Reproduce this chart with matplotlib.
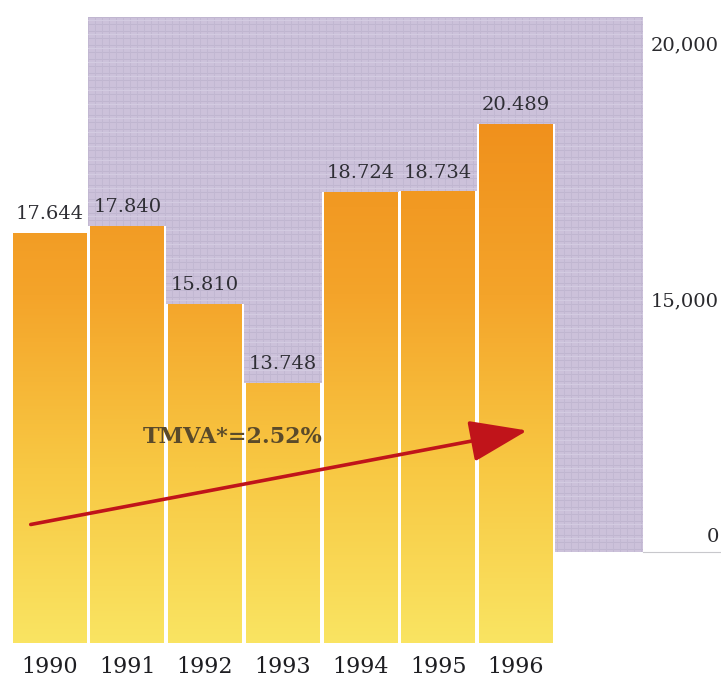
import numpy as np
import matplotlib
matplotlib.use('Agg')
import matplotlib.pyplot as plt
from matplotlib.colors import LinearSegmentedColormap, Normalize
from matplotlib.patches import FancyArrowPatch

# datos del grafico
years = ['1990', '1991', '1992', '1993', '1994', '1995', '1996']
values = [17644, 17840, 15810, 13748, 18724, 18734, 20489]
value_labels = ['17.644', '17.840', '15.810', '13.748', '18.724', '18.734', '20.489']
right_labels = ['20,000', '15,000', '0']
tmva_text = 'TMVA*=2.52%'

W, H = 721, 681
base = 7000          # las barras no arrancan en cero
px_per_unit = 0.0385 # pixeles por unidad de valor
pitch = 77.75        # pixeles entre barras
x0_px = 49.5         # centro de la primera barra
base_px = 643        # pie de las barras

fig = plt.figure(figsize=(W / 100, H / 100), dpi=100)
ax = fig.add_axes([0, 0, 1, 1])
ax.set_axis_off()

def fx(px):
    return px / W

def fy(py):
    return 1 - py / H

# fondo lila con textura de cuadricula
ph, pw = 552 - 17, 643 - 88
tex = np.ones((ph, pw, 3)) * np.array([204, 194, 219]) / 255
tex[::7, :, :] = np.array([192, 182, 208]) / 255
tex[:, ::7, :] = np.array([194, 184, 210]) / 255
tex[3::14, :, :] = np.array([212, 204, 226]) / 255
ax.imshow(tex, extent=(fx(88), fx(643), fy(552), fy(17)), transform=ax.transAxes,
          aspect='auto', zorder=0, interpolation='bilinear')

# linea base del eje derecho
ax.plot([fx(643), fx(720)], [fy(552), fy(552)], transform=ax.transAxes,
        color='#c8c8cc', lw=0.8, zorder=1)

xs = np.arange(len(years))
heights = [v - base for v in values]

# fondo blanco para los huecos entre barras
ax.bar(xs, heights, width=1.0, bottom=base, color='white', zorder=1)
bars = ax.bar(xs, heights, width=0.95, bottom=base, color='none', zorder=2)

cmap = LinearSegmentedColormap.from_list('amarillo_naranja',
                                         ['#fae462', '#f8c843', '#f4a42a', '#f0901c'])
norm = Normalize(vmin=base, vmax=20600)
for x, v, b in zip(xs, values, bars):
    grad = np.linspace(base, v, 256).reshape(-1, 1)
    im = ax.imshow(grad, extent=(x - 0.475, x + 0.475, base, v), origin='lower',
                   cmap=cmap, norm=norm, aspect='auto', zorder=2)
    im.set_clip_path(b)

# etiquetas de valores
for x, v, lab in zip(xs, values, value_labels):
    ax.annotate(lab, (x, v), xytext=(0, 7), textcoords='offset points',
                ha='center', va='bottom', fontsize=14, family='DejaVu Serif',
                color='#2e2e34', zorder=3)

# anos debajo de las barras
ymin = base - (H - base_px) / px_per_unit
ymax = base + base_px / px_per_unit
for x, yr in zip(xs, years):
    ax.text(x, base - (667 - base_px) / px_per_unit, yr, ha='center', va='center',
            fontsize=16, family='DejaVu Serif', color='#1e1e22')

# eje derecho (decorativo, roto)
for lab, py in zip(right_labels, [45, 301, 537]):
    ax.text(fx(719), fy(py), lab, transform=ax.transAxes, ha='right', va='center',
            fontsize=14, family='DejaVu Serif', color='#2a2a2e')

# flecha de tendencia
arr = FancyArrowPatch((fx(28), fy(525)), (fx(530), fy(430)), transform=ax.transAxes,
                      arrowstyle='-|>,head_length=3.6,head_width=1.3', mutation_scale=10,
                      color='#c0141a', lw=2.6, zorder=4)
ax.add_patch(arr)
ax.text(fx(143), fy(437), tmva_text, transform=ax.transAxes, ha='left', va='center',
        fontsize=16, family='DejaVu Serif', weight='bold', color='#5a4a2a', zorder=5)

ax.set_xlim(-x0_px / pitch, (W - x0_px) / pitch)
ax.set_ylim(ymin, ymax)

fig.savefig('out.png', dpi=100)
